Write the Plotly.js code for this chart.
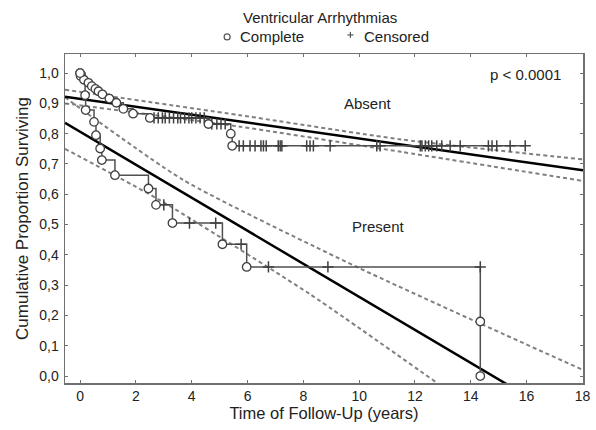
<!DOCTYPE html>
<html>
<head>
<meta charset="utf-8">
<script src="https://cdn.plot.ly/plotly-3.0.1.min.js"></script>
<style>html,body{margin:0;padding:0;background:#fff;}#chart{width:596px;height:430px;}</style>
</head>
<body>
<div id="chart"></div>
<script>
// ---- data ----
// Absent group: Kaplan-Meier events (time, survival)
const absentT = [0, 0.02, 0.14, 0.3, 0.42, 0.55, 0.66, 0.8, 1.05, 1.3, 1.55, 1.9, 2.5, 4.6, 5.4, 5.45];
const absentS = [1.0, 0.99, 0.978, 0.968, 0.957, 0.948, 0.94, 0.93, 0.916, 0.902, 0.882, 0.866, 0.852, 0.832, 0.80, 0.76];
// Absent censored observations
const absentCensT = [2.65, 2.8, 2.95, 3.05, 3.2, 3.35, 3.5, 3.6, 3.75, 3.9, 4.0, 4.15, 4.3, 4.45,
  4.72, 4.9, 5.05, 5.2,
  5.7, 5.85, 6.09, 6.27, 6.48, 6.57, 6.67, 7.1, 7.17, 7.23, 8.12, 8.24, 8.36, 8.96, 10.63, 10.75,
  12.19, 12.25, 12.37, 12.49, 12.6, 12.78, 12.96, 13.26, 13.62, 14.63, 14.76, 14.93, 15.41, 15.95];
const absentCensS = [0.852, 0.852, 0.852, 0.852, 0.852, 0.852, 0.852, 0.852, 0.852, 0.852, 0.852, 0.852, 0.852, 0.852,
  0.832, 0.832, 0.832, 0.832,
  0.76, 0.76, 0.76, 0.76, 0.76, 0.76, 0.76, 0.76, 0.76, 0.76, 0.76, 0.76, 0.76, 0.76, 0.76, 0.76,
  0.76, 0.76, 0.76, 0.76, 0.76, 0.76, 0.76, 0.76, 0.76, 0.76, 0.76, 0.76, 0.76, 0.76];
// Present group: Kaplan-Meier events
const presentT = [0, 0.18, 0.2, 0.5, 0.57, 0.72, 0.78, 1.25, 2.45, 2.72, 3.31, 5.1, 5.97, 14.34, 14.34];
const presentS = [1.0, 0.927, 0.878, 0.839, 0.795, 0.751, 0.713, 0.663, 0.619, 0.565, 0.505, 0.435, 0.36, 0.18, 0.0];
const presentCensT = [3.0, 3.92, 4.86, 5.77, 6.75, 8.88, 14.34];
const presentCensS = [0.565, 0.505, 0.505, 0.435, 0.36, 0.36, 0.36];
// Fitted lines and confidence bands
const absentFitT = [-0.54, 18.02];
const absentFitS = [0.922, 0.679];
const absentUpT = [-0.54, 5.73, 11.5, 18.02];
const absentUpS = [0.945, 0.861, 0.781, 0.715];
const absentLoT = [-0.54, 5.73, 11.5, 18.02];
const absentLoS = [0.90, 0.823, 0.74, 0.644];
const presentFitT = [-0.54, 15.6];
const presentFitS = [0.836, -0.044];
const presentUpT = [-0.54, 3.7, 9.92, 18.02];
const presentUpS = [0.92, 0.647, 0.36, 0.02];
const presentLoT = [-0.54, 2.87, 8.24, 12.9];
const presentLoS = [0.75, 0.58, 0.27, -0.03];
// Axis ticks
const xTicks = [0, 2, 4, 6, 8, 10, 12, 14, 16, 18];
const yTicks = [0, 0.1, 0.2, 0.3, 0.4, 0.5, 0.6, 0.7, 0.8, 0.9, 1.0];
const yTickText = ["0,0", "0,1", "0,2", "0,3", "0,4", "0,5", "0,6", "0,7", "0,8", "0,9", "1,0"];

// ---- styles ----
const FONT = "Liberation Sans, Arial, Helvetica, sans-serif";
const TXT = "#222";
const stepColor = "#505050";
const dashStyle = {color: "#808080", width: 2, dash: "4px,3px"};

function stepLine(t, s, endT) {
  const xs = t.slice(), ys = s.slice();
  if (endT !== undefined) { xs.push(endT); ys.push(s[s.length - 1]); }
  return {x: xs, y: ys, mode: "lines", line: {shape: "hv", color: stepColor, width: 1.5}, hoverinfo: "skip"};
}
function circles(t, s) {
  return {x: t, y: s, mode: "markers", cliponaxis: false,
    marker: {symbol: "circle", size: 8.5, color: "#fff", line: {color: "#404040", width: 1.3}}};
}
function cens(t, s) {
  return {x: t, y: s, mode: "markers",
    marker: {symbol: "cross-thin", size: 8, line: {color: "#404040", width: 1.5}}};
}
function dashed(t, s) {
  return {x: t, y: s, mode: "lines", line: {shape: "spline", smoothing: 0.6, ...dashStyle}};
}
function fit(t, s) {
  return {x: t, y: s, mode: "lines", line: {color: "#000", width: 2.5}};
}

const traces = [
  dashed(absentUpT, absentUpS), dashed(absentLoT, absentLoS),
  dashed(presentUpT, presentUpS), dashed(presentLoT, presentLoS),
  fit(absentFitT, absentFitS), fit(presentFitT, presentFitS),
  stepLine(absentT, absentS, absentCensT[absentCensT.length - 1]),
  stepLine(presentT, presentS),
  cens(absentCensT, absentCensS), cens(presentCensT, presentCensS),
  circles(absentT, absentS), circles(presentT, presentS)
];

const axisCommon = {
  showgrid: false, zeroline: false, showline: true, linecolor: "#707070", linewidth: 1.5,
  mirror: "ticks", ticks: "inside", ticklen: 3, tickcolor: "#707070", tickwidth: 1,
  tickfont: {family: FONT, size: 14, color: TXT}
};

const layout = {
  width: 596, height: 430,
  margin: {l: 65, r: 13, t: 54, b: 47},
  paper_bgcolor: "#fff", plot_bgcolor: "#fff",
  showlegend: false,
  font: {family: FONT, size: 14, color: TXT},
  xaxis: {...axisCommon, range: [-0.54, 18.02], tickvals: xTicks, ticktext: xTicks.map(String),
    title: {text: "Time of Follow-Up (years)", font: {family: FONT, size: 16.5, color: TXT}, standoff: 3}},
  yaxis: {...axisCommon, range: [-0.023, 1.063], tickvals: yTicks, ticktext: yTickText, ticklabelstandoff: 2,
    title: {text: "Cumulative Proportion Surviving", font: {family: FONT, size: 17, color: TXT}, standoff: 6}},
  annotations: [
    {xref: "paper", yref: "paper", x: 0.492, y: 1.112, text: "Ventricular Arrhythmias", showarrow: false,
      xanchor: "center", yanchor: "middle", font: {family: FONT, size: 15, color: TXT}},
    {xref: "paper", yref: "paper", x: 0.334, y: 1.052, text: "Complete", showarrow: false,
      xanchor: "left", yanchor: "middle", font: {family: FONT, size: 15, color: TXT}},
    {xref: "paper", yref: "paper", x: 0.573, y: 1.052, text: "Censored", showarrow: false,
      xanchor: "left", yanchor: "middle", font: {family: FONT, size: 15, color: TXT}},
    {xref: "x", yref: "y", x: 10.3, y: 0.898, text: "Absent", showarrow: false,
      xanchor: "center", yanchor: "middle", font: {family: FONT, size: 15, color: TXT}},
    {xref: "x", yref: "y", x: 10.7, y: 0.495, text: "Present", showarrow: false,
      xanchor: "center", yanchor: "middle", font: {family: FONT, size: 15, color: TXT}},
    {xref: "x", yref: "y", x: 17.3, y: 0.995, text: "p &lt; 0.0001", showarrow: false,
      xanchor: "right", yanchor: "middle", font: {family: FONT, size: 15, color: TXT}}
  ],
  shapes: [
    {type: "circle", xref: "paper", yref: "paper", xsizemode: "pixel", ysizemode: "pixel",
      xanchor: 0.313, yanchor: 1.052, x0: -3, x1: 3, y0: -3, y1: 3,
      line: {color: "#555", width: 1.2}, fillcolor: "#fff"},
    {type: "line", xref: "paper", yref: "paper", xsizemode: "pixel", ysizemode: "pixel",
      xanchor: 0.551, yanchor: 1.058, x0: -3, x1: 3, y0: 0, y1: 0, line: {color: "#555", width: 1.2}},
    {type: "line", xref: "paper", yref: "paper", xsizemode: "pixel", ysizemode: "pixel",
      xanchor: 0.551, yanchor: 1.058, x0: 0, x1: 0, y0: -3, y1: 3, line: {color: "#555", width: 1.2}}
  ]
};

Plotly.newPlot("chart", traces, layout, {staticPlot: true, displayModeBar: false});
</script>
</body>
</html>
